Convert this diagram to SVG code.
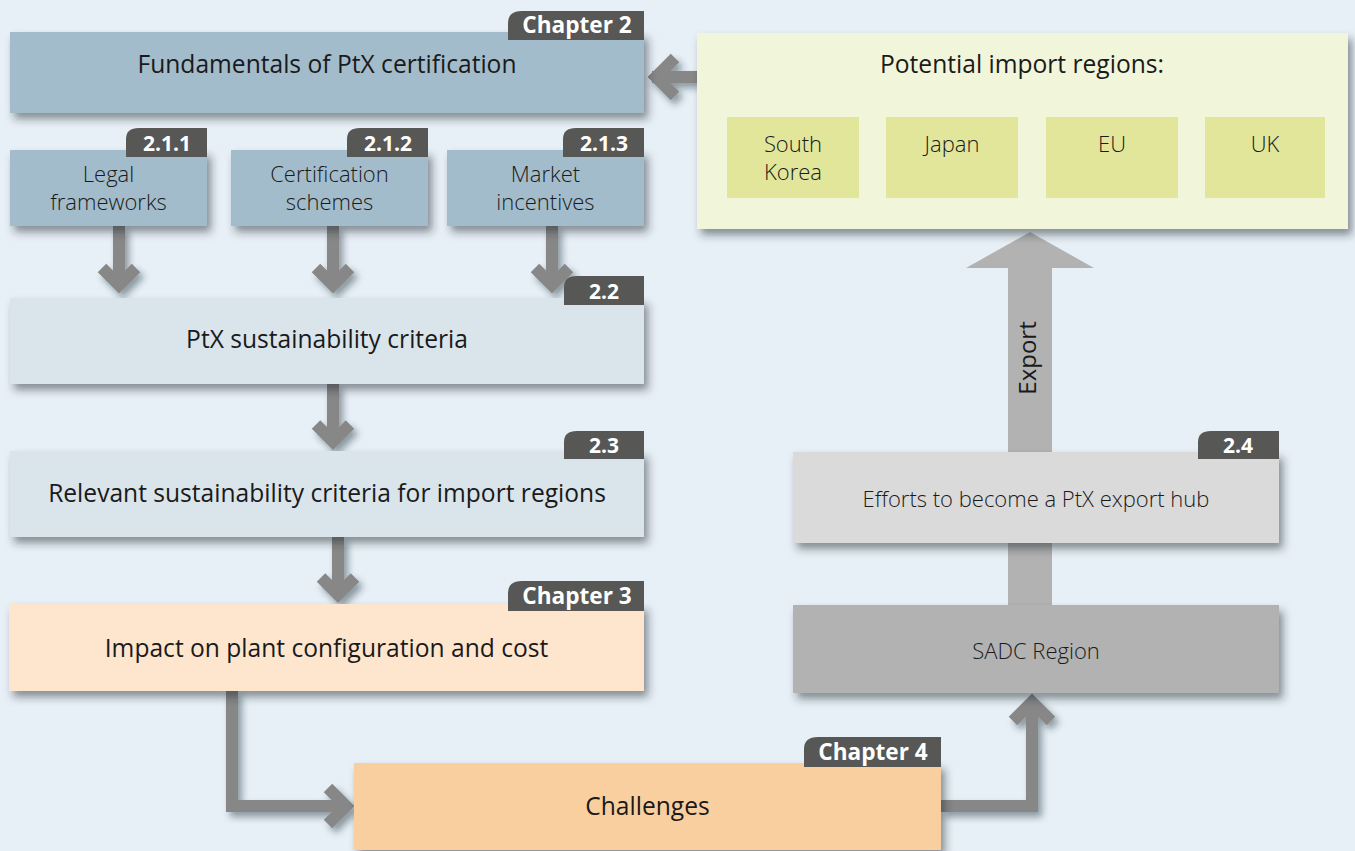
<svg xmlns="http://www.w3.org/2000/svg" width="1355" height="851" viewBox="0 0 1355 851">
  <defs>
    <filter id="shadow" x="-20%" y="-20%" width="140%" height="160%">
      <feDropShadow dx="4" dy="6" stdDeviation="4" flood-color="#1e2a33" flood-opacity="0.5"/>
    </filter>
    <filter id="arrowShadow" x="-50%" y="-50%" width="200%" height="200%">
      <feDropShadow dx="4" dy="5" stdDeviation="3.5" flood-color="#1e2a33" flood-opacity="0.45"/>
    </filter>
    <style>
      .label { font-family: "Open Sans", "Liberation Sans", sans-serif; fill: #1a1a1a; text-anchor: middle; }
      .main { font-size: 24.6px; }
      .light { font-size: 22px; font-weight: 300; }
      .tab { fill: #575756; }
      .tabtext { font-family: "Open Sans", "Liberation Sans", sans-serif; font-weight: 700; font-size: 21px; fill: #ffffff; text-anchor: middle; }
      .chapter { font-size: 22.6px; }
      .flow { fill: none; stroke: #878787; stroke-width: 12; stroke-linejoin: miter; stroke-linecap: butt; }
      .blueBox { fill: #a3bccb; }
      .paleBox { fill: #d9e4eb; }
      .region { fill: #e1e69b; }
    </style>
  </defs>

  <!-- page background -->
  <rect x="0" y="0" width="1355" height="851" fill="#e8f0f7"/>

  <!-- flow arrows -->
  <g id="connectors">
    <g filter="url(#arrowShadow)">
      <!-- import regions -> fundamentals -->
      <path class="flow" d="M697,77 H652 M675,58 L656,77 L675,96"/>
      <!-- 2.1.x -> 2.2 -->
      <path class="flow" d="M119,226 V286 M102,268 L119,285 L136,268"/>
      <path class="flow" d="M333,226 V286 M316,268 L333,285 L350,268"/>
      <path class="flow" d="M552,226 V286 M535,268 L552,285 L569,268"/>
      <!-- 2.2 -> 2.3 -->
      <path class="flow" d="M333,384 V442 M316,424.5 L333,441.5 L350,424.5"/>
      <!-- 2.3 -> chapter 3 -->
      <path class="flow" d="M338,537 V595 M321,577.5 L338,594.5 L355,577.5"/>
      <!-- chapter 3 -> chapter 4 -->
      <path class="flow" d="M232,691 V806 H345 M328,788 L346,806 L328,824"/>
      <!-- chapter 4 -> SADC region -->
      <path class="flow" d="M941,806 H1032 V703 M1013,721 L1032,702 L1051,721"/>
    </g>
    <!-- export arrow -->
    <g id="export-arrow">
      <rect x="1008" y="266" width="44" height="340" fill="#b2b2b2"/>
      <path d="M966,268 L1030,232 L1094,268 Z" fill="#b2b2b2"/>
      <text class="label" transform="translate(1036,358) rotate(-90)" font-size="24">Export</text>
    </g>
  </g>

  <!-- Chapter 2: fundamentals -->
  <g id="fundamentals">
    <rect class="blueBox" x="10" y="32" width="634" height="81" filter="url(#shadow)"/>
    <path class="tab" d="M508,40 V23 Q508,11 522,11 H644 V40 Z"/>
    <text class="tabtext chapter" x="577" y="33">Chapter 2</text>
    <text class="label main" x="327" y="73">Fundamentals of PtX certification</text>
  </g>

  <g id="legal-frameworks">
    <rect class="blueBox" x="10" y="150" width="197" height="76" filter="url(#shadow)"/>
    <path class="tab" d="M126,157 V139 Q126,128 139,128 H207 V157 Z"/>
    <text class="tabtext" x="167" y="151">2.1.1</text>
    <text class="label light" x="108.5" y="182">Legal</text>
    <text class="label light" x="108.5" y="210">frameworks</text>
  </g>

  <g id="certification-schemes">
    <rect class="blueBox" x="231" y="150" width="197" height="76" filter="url(#shadow)"/>
    <path class="tab" d="M347,157 V139 Q347,128 360,128 H428 V157 Z"/>
    <text class="tabtext" x="388" y="151">2.1.2</text>
    <text class="label light" x="329.5" y="182">Certification</text>
    <text class="label light" x="329.5" y="210">schemes</text>
  </g>

  <g id="market-incentives">
    <rect class="blueBox" x="447" y="150" width="197" height="76" filter="url(#shadow)"/>
    <path class="tab" d="M563,157 V139 Q563,128 576,128 H644 V157 Z"/>
    <text class="tabtext" x="604" y="151">2.1.3</text>
    <text class="label light" x="545.5" y="182">Market</text>
    <text class="label light" x="545.5" y="210">incentives</text>
  </g>

  <g id="sustainability-criteria">
    <rect class="paleBox" x="10" y="298" width="634" height="86" filter="url(#shadow)"/>
    <path class="tab" d="M564,305 V287 Q564,276 577,276 H644 V305 Z"/>
    <text class="tabtext" x="604" y="299">2.2</text>
    <text class="label main" x="327" y="348">PtX sustainability criteria</text>
  </g>

  <g id="relevant-criteria">
    <rect class="paleBox" x="10" y="451" width="634" height="86" filter="url(#shadow)"/>
    <path class="tab" d="M564,459 V442 Q564,431 577,431 H644 V459 Z"/>
    <text class="tabtext" x="604" y="453">2.3</text>
    <text class="label main" x="327" y="502">Relevant sustainability criteria for import regions</text>
  </g>

  <!-- Chapter 3 -->
  <g id="plant-impact">
    <rect x="9" y="604" width="635" height="87" fill="#fde5ce" filter="url(#shadow)"/>
    <path class="tab" d="M508,611 V593 Q508,581 522,581 H644 V611 Z"/>
    <text class="tabtext chapter" x="577" y="604">Chapter 3</text>
    <text class="label main" x="326.5" y="657">Impact on plant configuration and cost</text>
  </g>

  <!-- Chapter 4 -->
  <g id="challenges">
    <rect x="354" y="763" width="587" height="87" fill="#facfa0" filter="url(#shadow)"/>
    <path class="tab" d="M804,767 V749 Q804,737 818,737 H941 V767 Z"/>
    <text class="tabtext chapter" x="873" y="760">Chapter 4</text>
    <text class="label main" x="647.5" y="815">Challenges</text>
  </g>

  <!-- import regions -->
  <g id="import-regions">
    <rect x="697" y="33" width="651" height="196" fill="#f1f5da" filter="url(#shadow)"/>
    <text class="label main" x="1022" y="73">Potential import regions:</text>
    <g id="south-korea">
      <rect class="region" x="727" y="117" width="132" height="81"/>
      <text class="label light" x="793" y="152">South</text>
      <text class="label light" x="793" y="180">Korea</text>
    </g>
    <g id="japan">
      <rect class="region" x="886" y="117" width="132" height="81"/>
      <text class="label light" x="952" y="152">Japan</text>
    </g>
    <g id="eu">
      <rect class="region" x="1046" y="117" width="132" height="81"/>
      <text class="label light" x="1112" y="152">EU</text>
    </g>
    <g id="uk">
      <rect class="region" x="1205" y="117" width="120" height="81"/>
      <text class="label light" x="1265" y="152">UK</text>
    </g>
  </g>

  <g id="export-hub">
    <rect x="793" y="452" width="486" height="91" fill="#dadada" filter="url(#shadow)"/>
    <path class="tab" d="M1198,459 V442 Q1198,431 1211,431 H1279 V459 Z"/>
    <text class="tabtext" x="1238" y="453">2.4</text>
    <text class="label light" x="1036" y="507">Efforts to become a PtX export hub</text>
  </g>

  <g id="sadc-region">
    <rect x="793" y="605" width="486" height="88" fill="#b2b2b2" filter="url(#shadow)"/>
    <text class="label light" x="1036" y="659">SADC Region</text>
  </g>
</svg>
